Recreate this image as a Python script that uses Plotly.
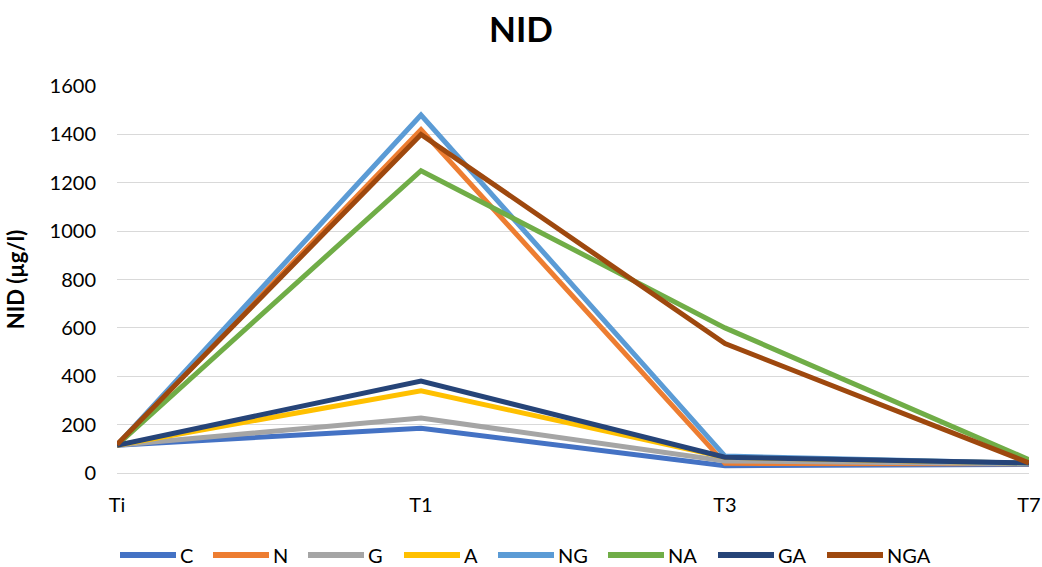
import plotly.graph_objects as go

# Sampling times and NID concentrations (µg/l) per treatment
times = ["Ti", "T1", "T3", "T7"]
series_names = ["C", "N", "G", "A", "NG", "NA", "GA", "NGA"]
C = [115, 185, 30, 35]
N = [115, 1420, 40, 38]
G = [115, 227, 50, 38]
A = [115, 340, 65, 40]
NG = [115, 1480, 70, 40]
NA = [115, 1250, 600, 55]
GA = [115, 380, 65, 42]
NGA = [118, 1400, 535, 42]
values = [C, N, G, A, NG, NA, GA, NGA]
colors = ["#4472C4", "#ED7D31", "#A5A5A5", "#FFC000",
          "#5B9BD5", "#70AD47", "#264478", "#9E480E"]

W, H = 1042, 567
ML, MR, MT, MB = 117, 13, 86, 94
PW, PH = W - ML - MR, H - MT - MB

fig = go.Figure()
for name, vals, col in zip(series_names, values, colors):
    fig.add_trace(go.Scatter(
        x=times, y=vals, name=name, mode="lines",
        line=dict(color=col, width=5), showlegend=False,
    ))

font_family = "Lato, 'Open Sans', sans-serif"


def px_x(px):
    return (px - ML) / PW


def px_y(py):
    return (H - MB - py) / PH


# Legend row along the bottom: a swatch line followed by the series name
legend_starts = [120, 213, 308, 404, 498, 608, 718, 827]
swatch_len = 56
legend_y = 555
shapes, annotations = [], []
for name, col, x0 in zip(series_names, colors, legend_starts):
    shapes.append(dict(
        type="line", xref="paper", yref="paper",
        x0=px_x(x0), x1=px_x(x0 + swatch_len),
        y0=px_y(legend_y), y1=px_y(legend_y),
        line=dict(color=col, width=6),
    ))
    annotations.append(dict(
        text=name, xref="paper", yref="paper",
        x=px_x(x0 + swatch_len + 2), y=px_y(legend_y),
        xanchor="left", yanchor="middle", showarrow=False,
        font=dict(size=20, color="#000000"),
    ))

fig.update_layout(
    width=W, height=H,
    margin=dict(l=ML, r=MR, t=MT, b=MB, autoexpand=False),
    paper_bgcolor="white", plot_bgcolor="white",
    font=dict(family=font_family, size=20, color="#000000"),
    title=dict(text="<b>NID</b>", x=0.5, xanchor="center",
               y=0.947, yanchor="middle", yref="container",
               font=dict(size=35, color="#000000")),
    xaxis=dict(
        type="category", range=[0, 3], showgrid=False, automargin=False,
        showline=True, linecolor="#d9d9d9", linewidth=1,
        ticks="", tickfont=dict(size=20), zeroline=False,
        ticklabelstandoff=14,
    ),
    yaxis=dict(
        range=[0, 1600], dtick=200, showgrid=True, automargin=False,
        gridcolor="#d9d9d9", gridwidth=1, zeroline=False,
        showline=False, ticks="", tickfont=dict(size=20),
        ticklabelstandoff=20,
        title=dict(text="<b>NID (µg/l)</b>", font=dict(size=22), standoff=18),
    ),
    shapes=shapes,
    annotations=annotations,
    showlegend=False,
)

fig.write_html("out.html")
